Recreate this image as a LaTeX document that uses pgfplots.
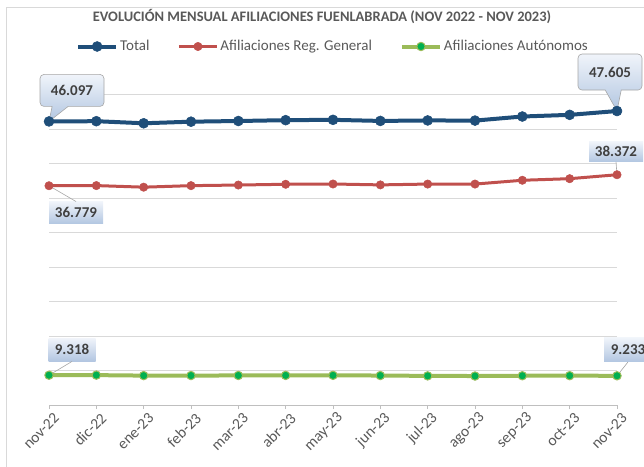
\documentclass[border=0pt]{standalone}
\usepackage{fontspec}
\setmainfont{Carlito}
\usepackage{pgfplots}
\usepackage{pgfplotstable}
\pgfplotsset{compat=1.18}
\usetikzlibrary{shapes.callouts,calc}
\definecolor{tblue}{HTML}{1F4E79}
\definecolor{gred}{HTML}{C0504D}
\definecolor{agreen}{HTML}{9BBB59}
\definecolor{amark}{HTML}{00B050}
\definecolor{titlegray}{HTML}{595959}
\definecolor{labgray}{HTML}{404040}
\definecolor{gridgray}{HTML}{D9D9D9}
\definecolor{axisgray}{HTML}{BFBFBF}
\definecolor{framegray}{HTML}{D9D9D9}
\definecolor{ctop}{HTML}{F0F4FA}
\definecolor{cbot}{HTML}{B2C6E1}
\definecolor{cborder}{HTML}{A6A6A6}

\pgfplotstableread{
x total general auto
0  46097 36779 9318
1  46130 36800 9330
2  45830 36570 9260
3  46060 36790 9270
4  46160 36880 9280
5  46280 36990 9290
6  46330 37030 9300
7  46170 36900 9270
8  46240 37020 9220
9  46220 37020 9200
10 46810 37570 9240
11 47050 37800 9250
12 47605 38372 9233
}\data

\begin{document}
\begin{tikzpicture}[x=1pt,y=1pt]
\useasboundingbox (0,0) rectangle (644,466);
\draw[framegray, line width=0.8pt] (6,-5) rectangle (660,459);
\node[font=\fontsize{14.5}{17}\selectfont\bfseries, text=titlegray, inner sep=0pt] at (322,449) {EVOLUCIÓN MENSUAL AFILIACIONES FUENLABRADA (NOV 2022 - NOV 2023)};
\begin{axis}[
  at={(49pt,61pt)}, anchor=south west,
  width=568pt, height=310.5pt, scale only axis,
  xmin=0, xmax=12, ymin=5000, ymax=50000,
  clip=false,
  axis x line*=bottom, axis y line*=left,
  y axis line style={draw=none},
  x axis line style={draw=axisgray, line width=0.8pt},
  ytick={10000,15000,...,50000}, yticklabels={},
  ytick style={draw=none},
  ymajorgrids, grid style={draw=gridgray, line width=0.8pt},
  xtick={0,...,12},
  xticklabels={nov-22,dic-22,ene-23,feb-23,mar-23,abr-23,may-23,jun-23,jul-23,ago-23,sep-23,oct-23,nov-23},
  xtick style={draw=axisgray, line width=0.8pt},
  tick align=outside, major tick length=4pt,
  xticklabel style={rotate=45, anchor=east, font=\fontsize{15.5}{18}\selectfont, text=titlegray, xshift=4pt, yshift=-10pt},
  legend columns=3,
  legend style={at={(axis description cs:0.5,1)}, anchor=center, yshift=48pt, draw=none, fill=none,
    font=\fontsize{15}{17}\selectfont, text=titlegray,
    /tikz/every even column/.append style={column sep=26pt}},
  legend image code/.code={\draw[#1,mark repeat=2,mark phase=2] plot coordinates {(0pt,0pt) (19pt,0pt) (38pt,0pt)};},
]
\addplot[tblue, line width=4pt, mark=*, mark size=5pt, mark options={solid, fill=tblue, draw=tblue, line width=0.5pt}] table[x=x,y=total] {\data};
\addlegendentry{Total}
\addplot[gred, line width=3pt, mark=*, mark size=4.2pt, mark options={solid, fill=gred, draw=gred, line width=0.5pt}] table[x=x,y=general] {\data};
\addlegendentry{Afiliaciones Reg. General}
\addplot[agreen, line width=4pt, mark=*, mark size=4.2pt, mark options={solid, fill=amark, draw=agreen, line width=1pt}] table[x=x,y=auto] {\data};
\addlegendentry{Afiliaciones Autónomos}

% data labels
\tikzset{
  lab/.style={font=\fontsize{15}{17}\selectfont\bfseries, text=labgray, top color=ctop, bottom color=cbot, inner sep=0pt, align=center},
}
\node[lab, rectangle callout, rounded corners=4pt, draw=cborder, line width=0.6pt,
  minimum width=64pt, minimum height=32pt, callout pointer width=16pt,
  callout absolute pointer={(axis cs:0,46097)}] at ($(axis cs:0,46097)+(23pt,31pt)$) {46.097};
\node[lab, rectangle callout, rounded corners=4pt, draw=cborder, line width=0.6pt,
  minimum width=64pt, minimum height=36pt, callout pointer width=16pt,
  callout absolute pointer={(axis cs:12,47605)}] at ($(axis cs:12,47605)+(-7pt,39pt)$) {47.605};

\node[lab, minimum width=54pt, minimum height=22pt] (l1) at ($(axis cs:0,36779)+(27pt,-27pt)$) {36.779};
\draw[cborder, line width=0.6pt] (axis cs:0,36779) -- (l1.north);
\node[lab, minimum width=54pt, minimum height=20pt] (l2) at ($(axis cs:12,38372)+(-1pt,23pt)$) {38.372};
\draw[cborder, line width=0.6pt] (axis cs:12,38372) -- (l2.south);
\node[lab, minimum width=47pt, minimum height=23pt] (l3) at ($(axis cs:0,9318)+(23pt,25.5pt)$) {9.318};
\draw[cborder, line width=0.6pt] (axis cs:0,9318) -- (l3.south);
\node[lab, minimum width=48pt, minimum height=24pt] (l4) at ($(axis cs:12,9233)+(11pt,26pt)$) {9.233};
\draw[cborder, line width=0.6pt] (axis cs:12,9233) -- (l4.south);
\end{axis}
\end{tikzpicture}
\end{document}
